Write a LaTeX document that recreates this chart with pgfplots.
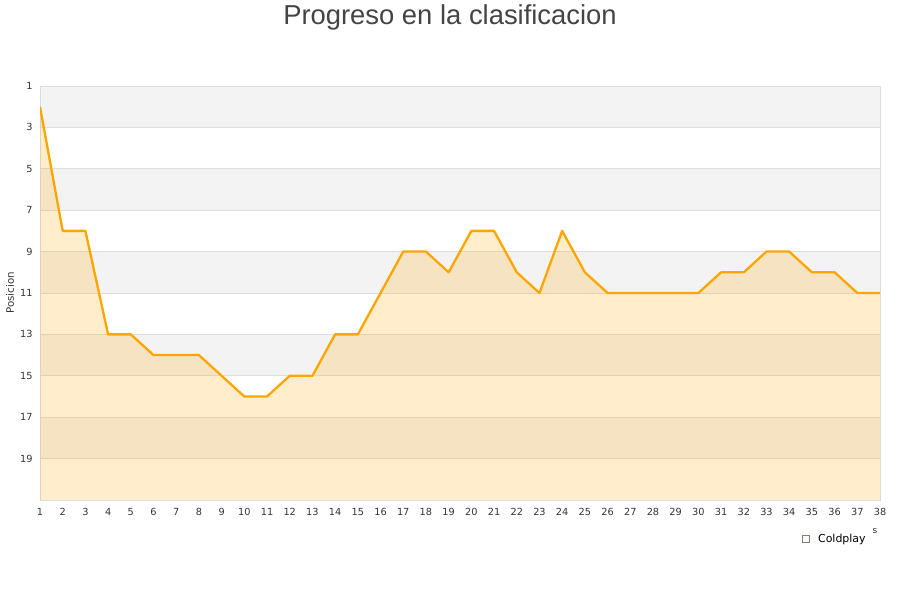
\documentclass[border=0pt]{standalone}
\usepackage{pgfplots}
\pgfplotsset{compat=1.18}
\usepackage{fontspec}
\setmainfont{DejaVu Sans}
\newfontfamily\titlefont{Liberation Sans}
\definecolor{lineor}{HTML}{FFA500}
\definecolor{band}{HTML}{F3F3F3}
\definecolor{gridc}{HTML}{DDDDDD}
\definecolor{txt}{HTML}{333333}
\definecolor{ttl}{HTML}{444444}
\definecolor{legfill}{HTML}{FDE6BE}
\pgfplotstableread{
x y
1 2
2 8
3 8
4 13
5 13
6 14
7 14
8 14
9 15
10 16
11 16
12 15
13 15
14 13
15 13
16 11
17 9
18 9
19 10
20 8
21 8
22 10
23 11
24 8
25 10
26 11
27 11
28 11
29 11
30 11
31 10
32 10
33 9
34 9
35 10
36 10
37 11
38 11
}\datatable
\pgfplotstableread{
x y
1 21
1 2
2 8
3 8
4 13
5 13
6 14
7 14
8 14
9 15
10 16
11 16
12 15
13 15
14 13
15 13
16 11
17 9
18 9
19 10
20 8
21 8
22 10
23 11
24 8
25 10
26 11
27 11
28 11
29 11
30 11
31 10
32 10
33 9
34 9
35 10
36 10
37 11
38 11
38 21
}\areatable
\begin{document}
\begin{tikzpicture}
\begin{axis}[at={(40bp,100bp)}, anchor=south west, scale only axis,
  width=840bp, height=414bp,
  set layers,
  xmin=1, xmax=38, ymin=1, ymax=21, y dir=reverse,
  xtick={1,...,38}, ytick={1,3,...,19},
  ymajorgrids, grid style={gridc, line width=0.8bp},
  axis line style={draw=gridc, line width=0.8bp},
  tick style={draw=none},
  ticklabel style={font=\fontsize{9.8}{11}\selectfont, text=txt},
  /pgf/number format/assume math mode=true,
  xticklabel style={yshift=-5bp},
  yticklabel style={xshift=-4bp},
  legend style={at={(0.946,-0.094)}, anchor=center, draw=none, fill=none,
    font=\fontsize{11}{12}\selectfont, text=black},
  legend image code/.code={\draw[draw=gray, fill=legfill, line width=0.5bp] (0bp,-3.5bp) rectangle (7bp,3.5bp);},
  legend cell align=left,
  legend style={/tikz/every even column/.append style={column sep=0bp}, nodes={inner sep=2bp}},
]
\addplot[fill=band, draw=none, on layer=axis background, forget plot] coordinates {(1,1) (38,1) (38,3) (1,3)} -- cycle;
\addplot[fill=band, draw=none, on layer=axis background, forget plot] coordinates {(1,5) (38,5) (38,7) (1,7)} -- cycle;
\addplot[fill=band, draw=none, on layer=axis background, forget plot] coordinates {(1,9) (38,9) (38,11) (1,11)} -- cycle;
\addplot[fill=band, draw=none, on layer=axis background, forget plot] coordinates {(1,13) (38,13) (38,15) (1,15)} -- cycle;
\addplot[fill=band, draw=none, on layer=axis background, forget plot] coordinates {(1,17) (38,17) (38,19) (1,19)} -- cycle;
\addplot[fill=lineor, fill opacity=0.2, draw=none] table[x=x,y=y] {\areatable} -- cycle;
\addlegendentry{\hspace{7bp}Coldplay}
\addplot[lineor, line width=2.3bp, line join=round, forget plot] table[x=x,y=y] {\datatable};
\end{axis}
\node[font=\titlefont\fontsize{27.5}{30}\selectfont, text=ttl] at (450bp,583bp) {Progreso en la clasificacion};
\node[rotate=90, font=\fontsize{10.3}{12}\selectfont, text=txt] at (10bp,307bp) {Posicion};
\node[font=\fontsize{9}{10}\selectfont, text=txt] at (875bp,69bp) {s};
\path (0bp,0bp) (900bp,600bp);
\end{tikzpicture}
\end{document}
